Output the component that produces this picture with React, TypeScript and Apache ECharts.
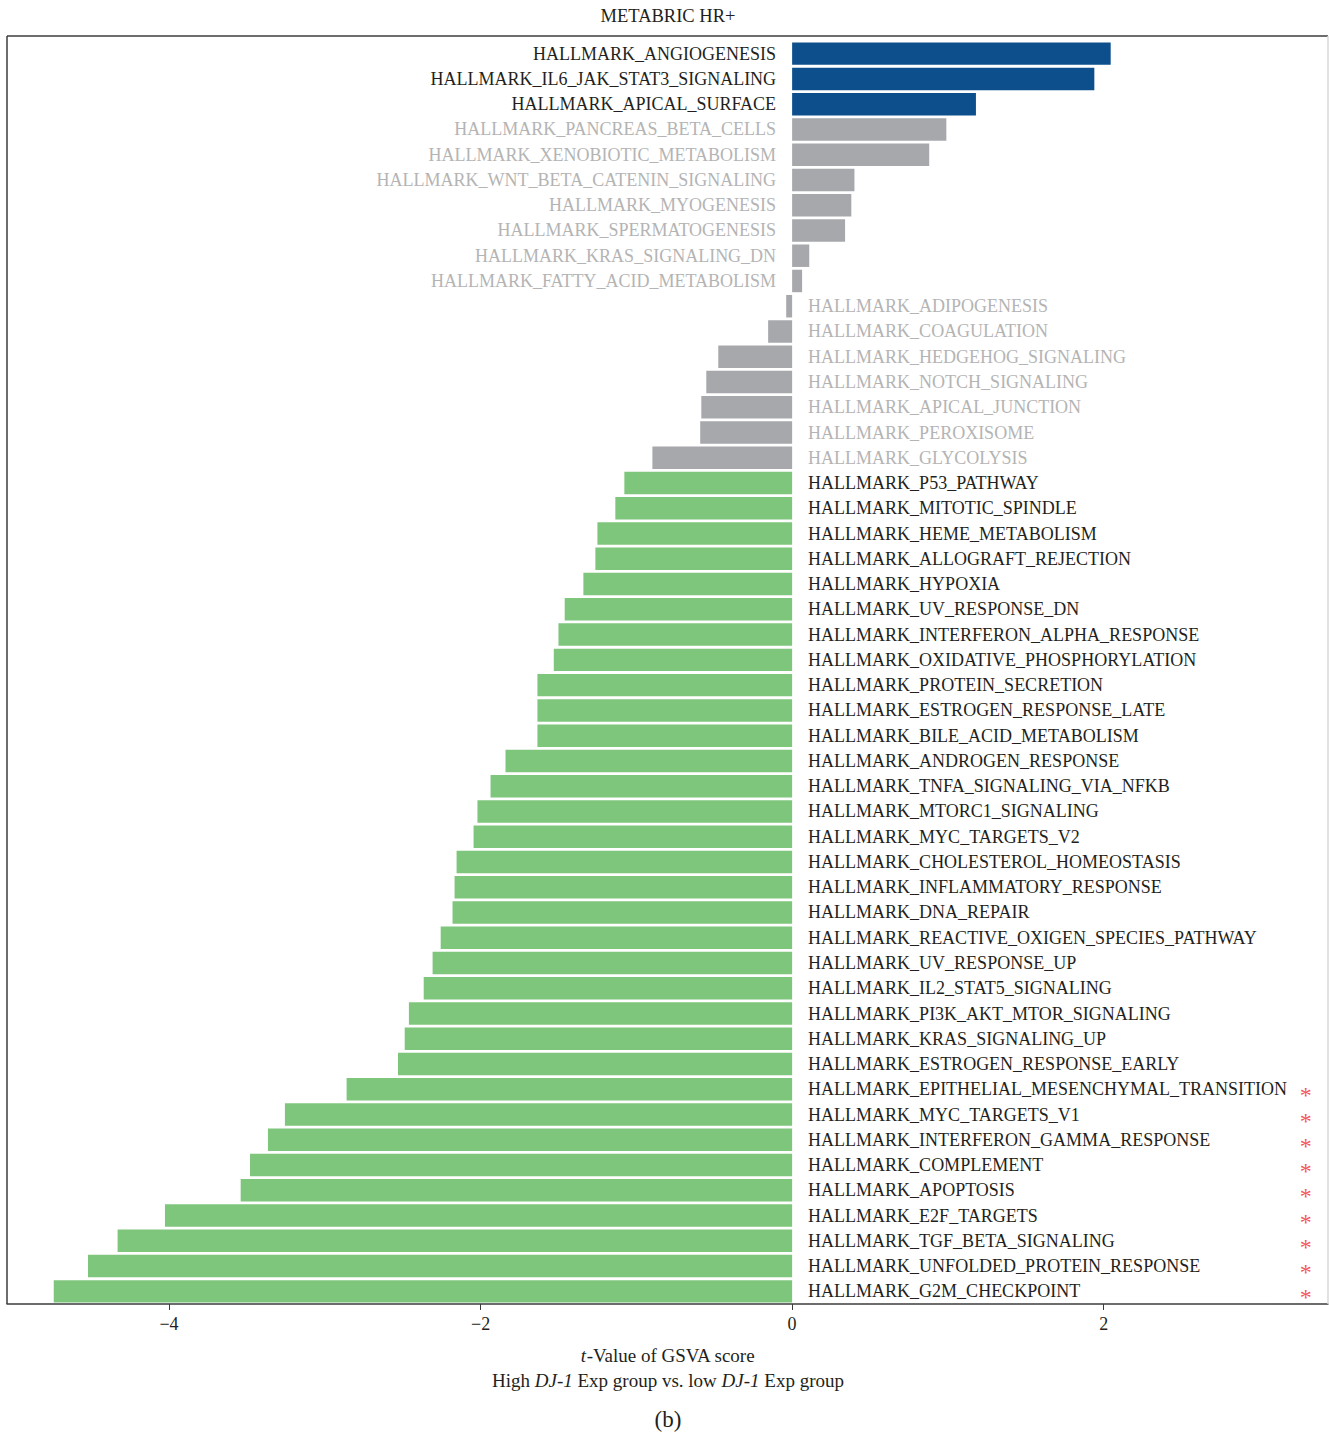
import React, { useEffect, useRef } from "react";
import * as echarts from "echarts";

const categories = [
  "HALLMARK_ANGIOGENESIS",
  "HALLMARK_IL6_JAK_STAT3_SIGNALING",
  "HALLMARK_APICAL_SURFACE",
  "HALLMARK_PANCREAS_BETA_CELLS",
  "HALLMARK_XENOBIOTIC_METABOLISM",
  "HALLMARK_WNT_BETA_CATENIN_SIGNALING",
  "HALLMARK_MYOGENESIS",
  "HALLMARK_SPERMATOGENESIS",
  "HALLMARK_KRAS_SIGNALING_DN",
  "HALLMARK_FATTY_ACID_METABOLISM",
  "HALLMARK_ADIPOGENESIS",
  "HALLMARK_COAGULATION",
  "HALLMARK_HEDGEHOG_SIGNALING",
  "HALLMARK_NOTCH_SIGNALING",
  "HALLMARK_APICAL_JUNCTION",
  "HALLMARK_PEROXISOME",
  "HALLMARK_GLYCOLYSIS",
  "HALLMARK_P53_PATHWAY",
  "HALLMARK_MITOTIC_SPINDLE",
  "HALLMARK_HEME_METABOLISM",
  "HALLMARK_ALLOGRAFT_REJECTION",
  "HALLMARK_HYPOXIA",
  "HALLMARK_UV_RESPONSE_DN",
  "HALLMARK_INTERFERON_ALPHA_RESPONSE",
  "HALLMARK_OXIDATIVE_PHOSPHORYLATION",
  "HALLMARK_PROTEIN_SECRETION",
  "HALLMARK_ESTROGEN_RESPONSE_LATE",
  "HALLMARK_BILE_ACID_METABOLISM",
  "HALLMARK_ANDROGEN_RESPONSE",
  "HALLMARK_TNFA_SIGNALING_VIA_NFKB",
  "HALLMARK_MTORC1_SIGNALING",
  "HALLMARK_MYC_TARGETS_V2",
  "HALLMARK_CHOLESTEROL_HOMEOSTASIS",
  "HALLMARK_INFLAMMATORY_RESPONSE",
  "HALLMARK_DNA_REPAIR",
  "HALLMARK_REACTIVE_OXIGEN_SPECIES_PATHWAY",
  "HALLMARK_UV_RESPONSE_UP",
  "HALLMARK_IL2_STAT5_SIGNALING",
  "HALLMARK_PI3K_AKT_MTOR_SIGNALING",
  "HALLMARK_KRAS_SIGNALING_UP",
  "HALLMARK_ESTROGEN_RESPONSE_EARLY",
  "HALLMARK_EPITHELIAL_MESENCHYMAL_TRANSITION",
  "HALLMARK_MYC_TARGETS_V1",
  "HALLMARK_INTERFERON_GAMMA_RESPONSE",
  "HALLMARK_COMPLEMENT",
  "HALLMARK_APOPTOSIS",
  "HALLMARK_E2F_TARGETS",
  "HALLMARK_TGF_BETA_SIGNALING",
  "HALLMARK_UNFOLDED_PROTEIN_RESPONSE",
  "HALLMARK_G2M_CHECKPOINT",
];

const tValues = [
  2.045, 1.94, 1.18, 0.99, 0.88, 0.4, 0.38, 0.34, 0.11, 0.064,
  -0.038, -0.154, -0.474, -0.551, -0.583, -0.59, -0.897, -1.077, -1.135, -1.25,
  -1.263, -1.34, -1.46, -1.5, -1.53, -1.635, -1.635, -1.635, -1.84, -1.936,
  -2.02, -2.045, -2.154, -2.167, -2.18, -2.256, -2.308, -2.365, -2.46, -2.487,
  -2.53, -2.86, -3.256, -3.365, -3.48, -3.54, -4.026, -4.33, -4.52, -4.74,
];

// "up" = higher in high-DJ-1 group, "ns" = not significant, "down" = lower
const groups = [
  "up", "up", "up", "ns", "ns", "ns", "ns", "ns", "ns", "ns",
  "ns", "ns", "ns", "ns", "ns", "ns", "ns", "down", "down", "down",
  "down", "down", "down", "down", "down", "down", "down", "down", "down", "down",
  "down", "down", "down", "down", "down", "down", "down", "down", "down", "down",
  "down", "down", "down", "down", "down", "down", "down", "down", "down", "down",
];

const significant = categories.map((_, i) => i >= 41);

const xTicks = [-4, -2, 0, 2];

const barColors: Record<string, string> = { up: "#0c4f8c", ns: "#a7a8ac", down: "#7fc67d" };
const labelColors: Record<string, string> = { up: "#231f20", ns: "#b4b4b4", down: "#231f20" };

const FONT = "'Liberation Serif', 'DejaVu Serif', serif";
const ASTERISK_X = 3.29;

export default function App() {
  const ref = useRef<HTMLDivElement>(null);

  useEffect(() => {
    document.body.style.margin = "0";
    if (!ref.current) return;
    const chart = echarts.init(ref.current, undefined, { renderer: "svg" });

    const barData = tValues.map((v, i) => ({
      value: v,
      itemStyle: { color: barColors[groups[i]] },
      label: {
        show: true,
        position: v >= 0 ? "left" : "right",
        distance: 16,
        formatter: categories[i],
        color: labelColors[groups[i]],
        fontFamily: FONT,
        fontSize: 18,
      },
    }));

    const starData = categories
      .map((c, i) => (significant[i] ? [ASTERISK_X, c] : null))
      .filter((d) => d !== null);

    const richStyles = {
      i: { fontFamily: FONT, fontSize: 19, fontStyle: "italic", fill: "#231f20", color: "#231f20" },
      n: { fontFamily: FONT, fontSize: 19, fill: "#231f20", color: "#231f20" },
    };

    chart.setOption({
      animation: false,
      grid: {
        left: 7,
        top: 41,
        width: 1321,
        height: 1263,
        show: false,
      },
      xAxis: {
        type: "value",
        min: -5.04,
        max: 3.44,
        splitLine: { show: false },
        axisLine: { show: true, onZero: false, lineStyle: { color: "#3c3c3c", width: 1.5 } },
        axisTick: {
          show: true,
          length: 6,
          customValues: xTicks,
          lineStyle: { color: "#3c3c3c" },
        },
        axisLabel: {
          show: true,
          customValues: xTicks,
          margin: 11,
          fontFamily: FONT,
          fontSize: 18,
          color: "#231f20",
          formatter: (v: number) => (v < 0 ? "\u2212" + Math.abs(v) : String(v)),
        },
      },
      yAxis: {
        type: "category",
        data: categories,
        inverse: true,
        axisLine: { show: false },
        axisTick: { show: false },
        axisLabel: { show: false },
        splitLine: { show: false },
      },
      series: [
        {
          type: "bar",
          data: barData,
          barCategoryGap: "11%",
        },
        {
          type: "scatter",
          data: starData,
          symbolSize: 1,
          itemStyle: { color: "rgba(0,0,0,0)" },
          label: {
            show: true,
            position: "inside",
            formatter: "*",
            color: "#f0282d",
            fontFamily: FONT,
            fontSize: 24,
            offset: [1, 6],
          },
          z: 5,
        },
      ],
      graphic: [
        {
          type: "line",
          shape: { x1: 7, y1: 36, x2: 1328, y2: 36 },
          style: { stroke: "#3c3c3c", lineWidth: 1.5 },
          z: 10,
        },
        {
          type: "line",
          shape: { x1: 7, y1: 36, x2: 7, y2: 1304 },
          style: { stroke: "#3c3c3c", lineWidth: 1.5 },
          z: 10,
        },
        {
          type: "line",
          shape: { x1: 1328, y1: 36, x2: 1328, y2: 1304 },
          style: { stroke: "#d8d8d8", lineWidth: 1.5 },
          z: 10,
        },
        {
          type: "text",
          x: 668,
          y: 16,
          style: {
            text: "METABRIC HR+",
            fontFamily: FONT,
            fontSize: 18.5,
            fill: "#231f20",
            align: "center",
            verticalAlign: "middle",
          },
        },
        {
          type: "text",
          x: 668,
          y: 1355,
          style: {
            text: "{i|t}{n|-Value of GSVA score}",
            align: "center",
            verticalAlign: "middle",
            fontFamily: FONT,
            fontSize: 19,
            fill: "#231f20",
            rich: richStyles,
          },
        },
        {
          type: "text",
          x: 668,
          y: 1380,
          style: {
            text: "{n|High }{i|DJ-1}{n| Exp group vs. low }{i|DJ-1}{n| Exp group}",
            align: "center",
            verticalAlign: "middle",
            fontFamily: FONT,
            fontSize: 19,
            fill: "#231f20",
            rich: richStyles,
          },
        },
        {
          type: "text",
          x: 668,
          y: 1419,
          style: {
            text: "(b)",
            fontFamily: FONT,
            fontSize: 23,
            fill: "#231f20",
            align: "center",
            verticalAlign: "middle",
          },
        },
      ],
    });

    return () => chart.dispose();
  }, []);

  return <div ref={ref} style={{ width: 1329, height: 1433 }} />;
}
